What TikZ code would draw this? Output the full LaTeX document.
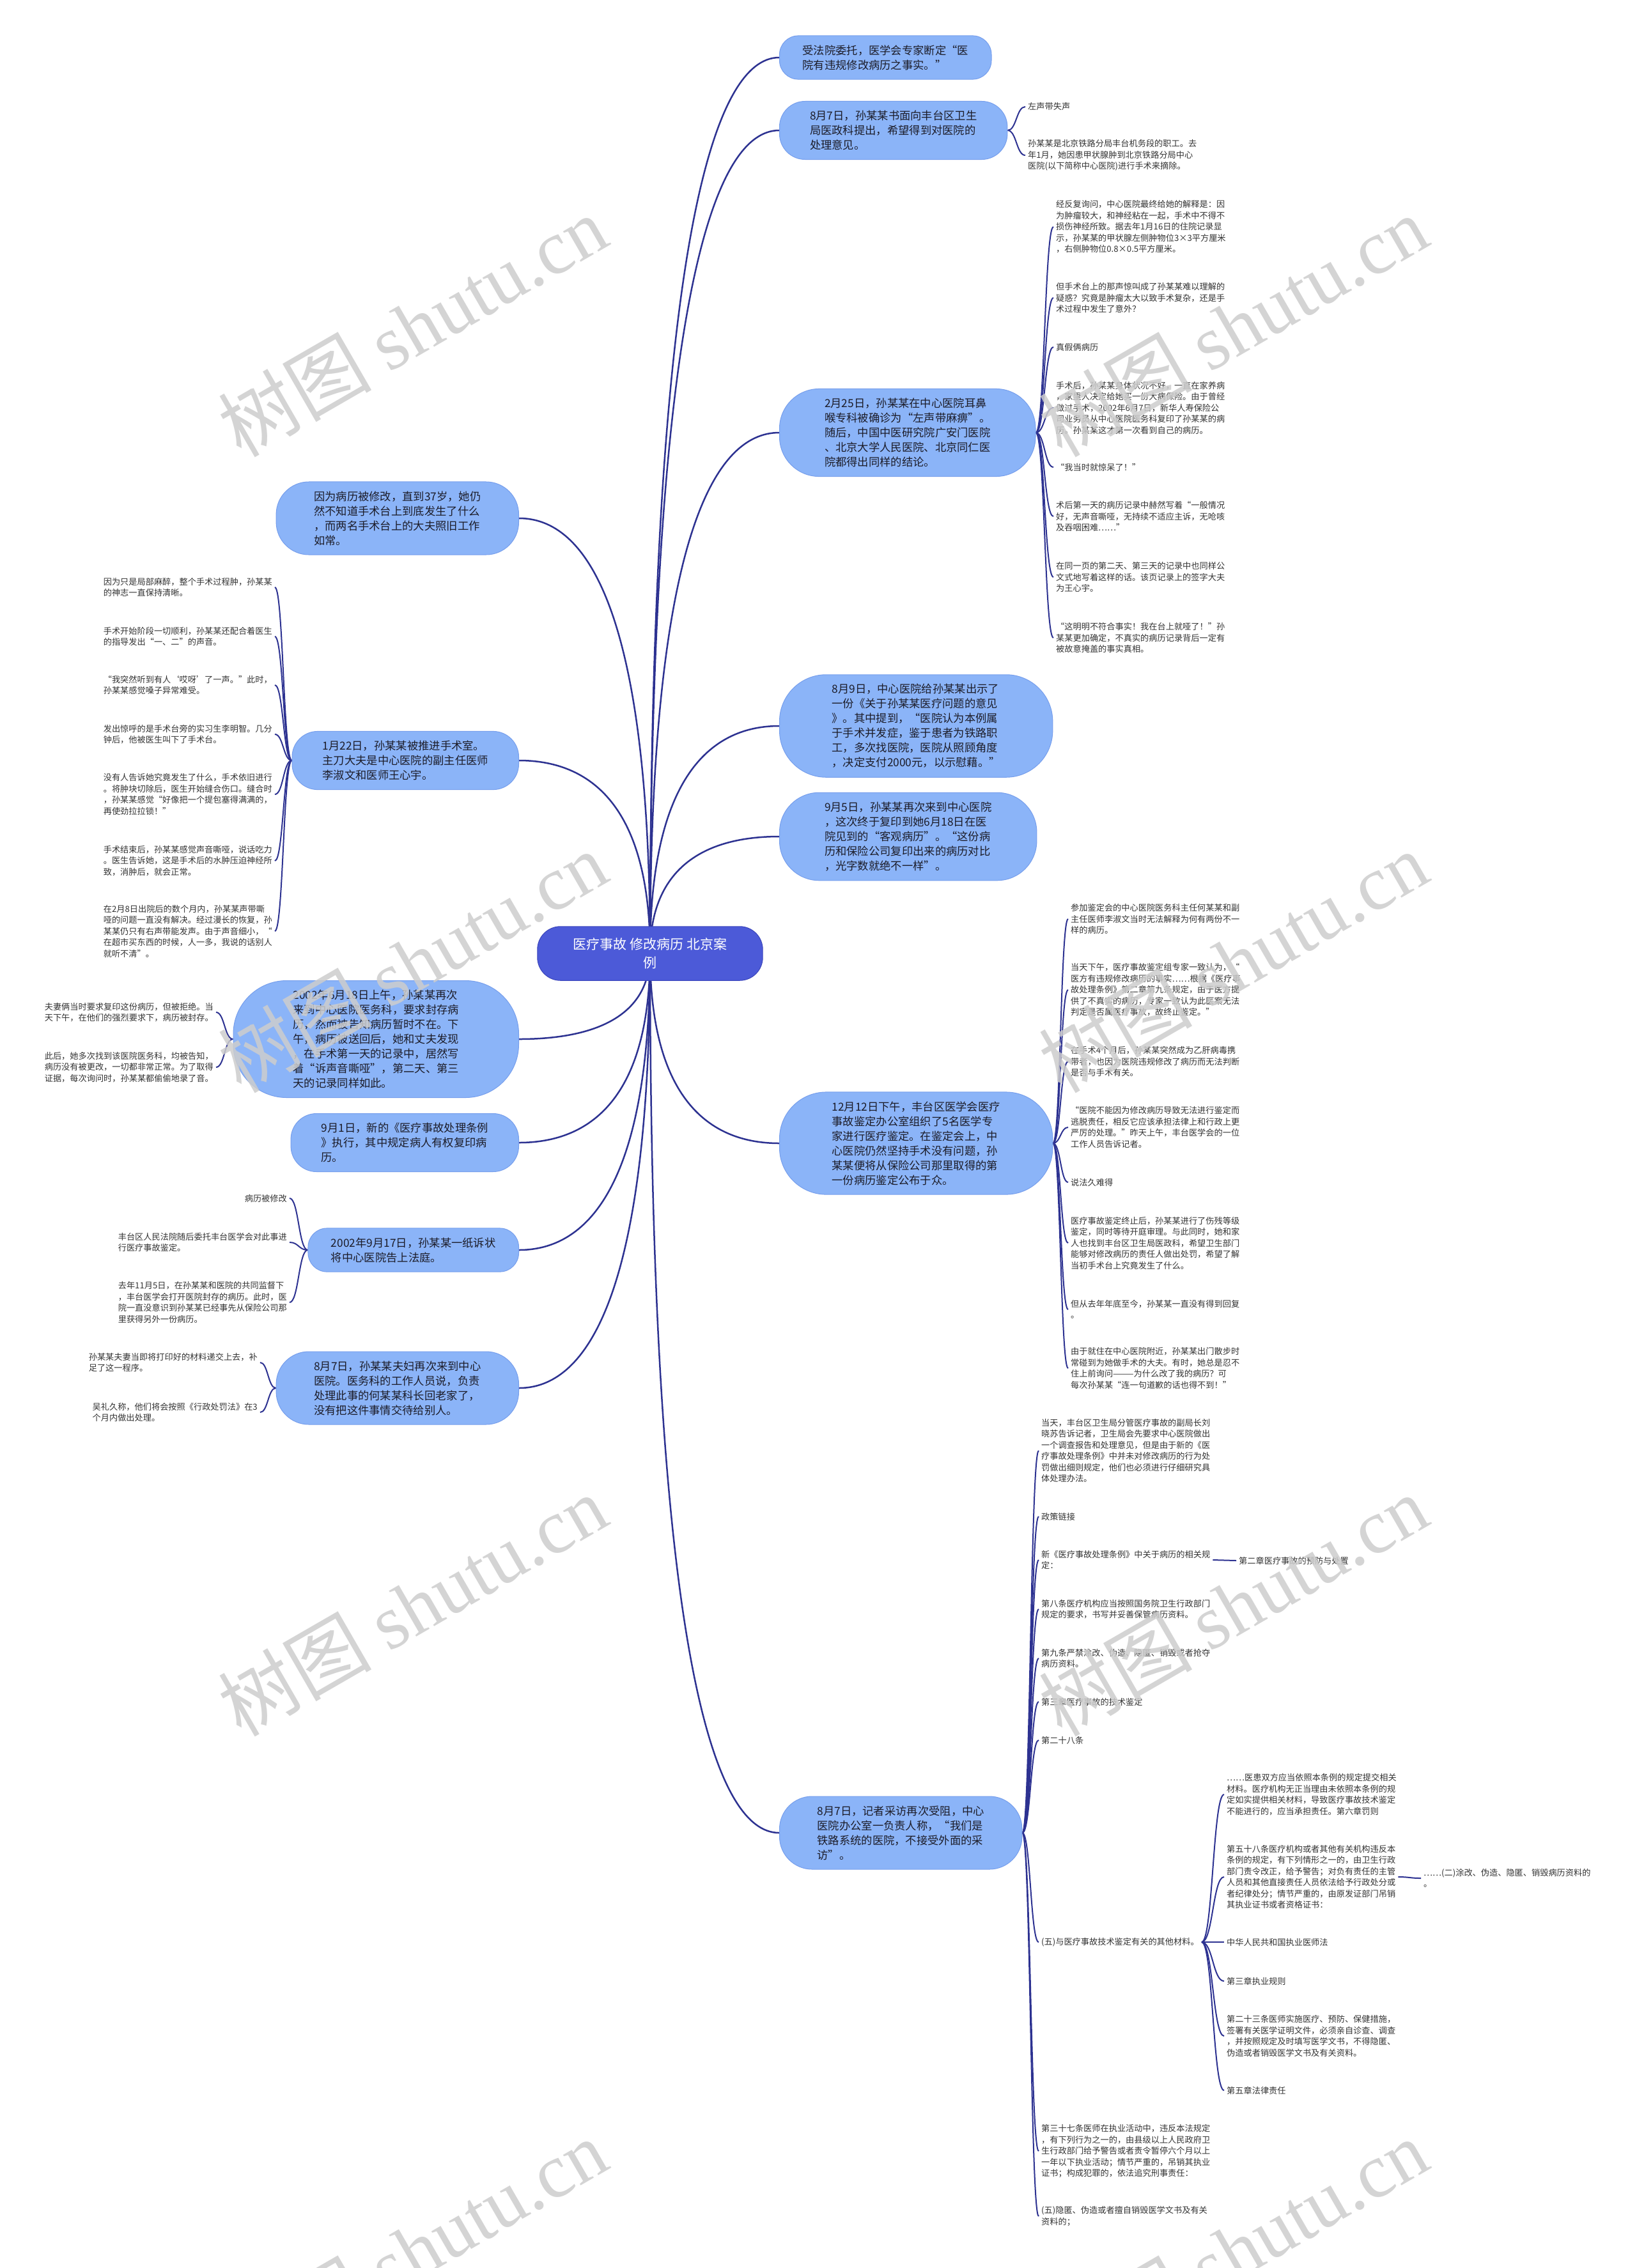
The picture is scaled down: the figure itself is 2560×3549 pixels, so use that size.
\documentclass[tikz,border=0pt]{standalone}
\usepackage{fontspec}
\setmainfont{Noto Sans CJK SC}
\newfontfamily\wmlatin{Liberation Serif}
\usetikzlibrary{calc,backgrounds}
\definecolor{linkblue}{RGB}{45,50,145}
\definecolor{boxfill}{RGB}{139,180,248}
\definecolor{boxline}{RGB}{118,158,236}
\definecolor{rootfill}{RGB}{76,90,216}
\definecolor{rootline}{RGB}{58,68,186}
\definecolor{leaftext}{RGB}{51,51,51}
\definecolor{boxtext}{RGB}{28,28,40}
\definecolor{wmgray}{RGB}{205,205,205}
\begin{document}
\begin{tikzpicture}[x=1pt, y=-1pt,
  root/.style={rectangle, rounded corners=36pt, fill=rootfill, draw=rootline, line width=1pt, text=white, align=center, inner xsep=56pt, inner ysep=18pt, font=\fontsize{21}{29}\selectfont},
  box/.style 2 args={rectangle, rounded corners=#1, fill=boxfill, draw=boxline, line width=1pt, text=boxtext, align=left, inner xsep=#2, inner ysep=14.5pt, font=\fontsize{17.3}{23}\selectfont},
  leaf/.style={align=left, inner sep=4pt, text=leaftext, font=\fontsize{13.2}{17.5}\selectfont},
  branch/.style={draw=linkblue, line width=2.5pt, to path={let \p1=(\tikztostart), \p2=(\tikztotarget) in .. controls (\x1,{\y1+0.8*(\y2-\y1)}) and ({\x1+0.5*(\x2-\x1)},\y2) .. (\tikztotarget)}},
  twig/.style={draw=linkblue, line width=2pt, to path={let \p1=(\tikztostart), \p2=(\tikztotarget) in .. controls ({0.5*(\x1+\x2)},\y1) and ({0.5*(\x1+\x2)},\y2) .. (\tikztotarget)}},
  wmark/.style={text=wmgray, opacity=0.85, rotate=30, font=\fontsize{120}{120}\selectfont}]
\useasboundingbox (0,0) rectangle (2560,3549);

\node[root] (r) at (1017,1492) {医疗事故 修改病历 北京案\\例};

\node[box={29.5pt}{36pt}, anchor=west] (b1) at (1219,90) {受法院委托，医学会专家断定“医\\院有违规修改病历之事实。”};
\node[box={40pt}{47.5pt}, anchor=west] (b2) at (1219,204) {8月7日，孙某某书面向丰台区卫生\\局医政科提出，希望得到对医院的\\处理意见。};
\node[box={62pt}{70.5pt}, anchor=west] (b3) at (1219,677) {2月25日，孙某某在中心医院耳鼻\\喉专科被确诊为“左声带麻痹”。\\随后，中国中医研究院广安门医院\\、北京大学人民医院、北京同仁医\\院都得出同样的结论。};
\node[box={73pt}{82pt}, anchor=west] (b4) at (1219,1136) {8月9日，中心医院给孙某某出示了\\一份《关于孙某某医疗问题的意见\\》。其中提到，“医院认为本例属\\于手术并发症，鉴于患者为铁路职\\工，多次找医院，医院从照顾角度\\，决定支付2000元，以示慰藉。”};
\node[box={62pt}{70.5pt}, anchor=west] (b5) at (1219,1309) {9月5日，孙某某再次来到中心医院\\，这次终于复印到她6月18日在医\\院见到的“客观病历”。“这份病\\历和保险公司复印出来的病历对比\\，光字数就绝不一样”。};
\node[box={73pt}{82pt}, anchor=west] (b6) at (1219,1789) {12月12日下午，丰台区医学会医疗\\事故鉴定办公室组织了5名医学专\\家进行医疗鉴定。在鉴定会上，中\\心医院仍然坚持手术没有问题，孙\\某某便将从保险公司那里取得的第\\一份病历鉴定公布于众。};
\node[box={51pt}{59pt}, anchor=west] (b7) at (1219,2868) {8月7日，记者采访再次受阻，中心\\医院办公室一负责人称，“我们是\\铁路系统的医院，不接受外面的采\\访”。};

\node[box={51pt}{59pt}, anchor=east] (l1) at (812,811) {因为病历被修改，直到37岁，她仍\\然不知道手术台上到底发生了什么\\，而两名手术台上的大夫照旧工作\\如常。};
\node[box={40pt}{47.5pt}, anchor=east] (l2) at (812,1190) {1月22日，孙某某被推进手术室。\\主刀大夫是中心医院的副主任医师\\李淑文和医师王心宇。};
\node[box={83.5pt}{93.5pt}, anchor=east] (l3) at (812,1626) {2002年6月18日上午，孙某某再次\\来到中心医院医务科，要求封存病\\历，然而被告知病历暂时不在。下\\午，病历被送回后，她和丈夫发现\\，在手术第一天的记录中，居然写\\着“诉声音嘶哑”，第二天、第三\\天的记录同样如此。};
\node[box={40pt}{47.5pt}, anchor=east] (l4) at (812,1788) {9月1日，新的《医疗事故处理条例\\》执行，其中规定病人有权复印病\\历。};
\node[box={29.5pt}{36pt}, anchor=east] (l5) at (812,1956) {2002年9月17日，孙某某一纸诉状\\将中心医院告上法庭。};
\node[box={51pt}{59pt}, anchor=east] (l6) at (812,2172) {8月7日，孙某某夫妇再次来到中心\\医院。医务科的工作人员说，负责\\处理此事的何某某科长回老家了，\\没有把这件事情交待给别人。};

\node[leaf, anchor=west] (a1) at (1604,167) {左声带失声};
\node[leaf, anchor=west] (a2) at (1604,243) {孙某某是北京铁路分局丰台机务段的职工。去\\年1月，她因患甲状腺肿到北京铁路分局中心\\医院(以下简称中心医院)进行手术来摘除。};

\node[leaf, anchor=west] (c1) at (1648,355) {经反复询问，中心医院最终给她的解释是：因\\为肿瘤较大，和神经粘在一起，手术中不得不\\损伤神经所致。据去年1月16日的住院记录显\\示，孙某某的甲状腺左侧肿物位3×3平方厘米\\，右侧肿物位0.8×0.5平方厘米。};
\node[leaf, anchor=west] (c2) at (1648,466) {但手术台上的那声惊叫成了孙某某难以理解的\\疑惑？究竟是肿瘤太大以致手术复杂，还是手\\术过程中发生了意外？};
\node[leaf, anchor=west] (c3) at (1648,543) {真假俩病历};
\node[leaf, anchor=west] (c4) at (1648,638) {手术后，孙某某身体状况不好，一直在家养病\\，家里人决定给她买一份大病保险。由于曾经\\做过手术，2002年6月7日，新华人寿保险公\\司业务员从中心医院医务科复印了孙某某的病\\历。孙某某这才第一次看到自己的病历。};
\node[leaf, anchor=west] (c5) at (1648,731) {“我当时就惊呆了！”};
\node[leaf, anchor=west] (c6) at (1648,808) {术后第一天的病历记录中赫然写着“一般情况\\好，无声音嘶哑，无持续不适应主诉，无呛咳\\及吞咽困难……”};
\node[leaf, anchor=west] (c7) at (1648,903) {在同一页的第二天、第三天的记录中也同样公\\文式地写着这样的话。该页记录上的签字大夫\\为王心宇。};
\node[leaf, anchor=west] (c8) at (1648,998) {“这明明不符合事实！我在台上就哑了！”孙\\某某更加确定，不真实的病历记录背后一定有\\被故意掩盖的事实真相。};

\node[leaf, anchor=west] (d1) at (1671,1438) {参加鉴定会的中心医院医务科主任何某某和副\\主任医师李淑文当时无法解释为何有两份不一\\样的病历。};
\node[leaf, anchor=west] (d2) at (1671,1549) {当天下午，医疗事故鉴定组专家一致认为，“\\医方有违规修改病历的事实……根据《医疗事\\故处理条例》第二章第九条规定，由于医方提\\供了不真实的病历，专家一致认为此医案无法\\判定是否属医疗事故，故终止鉴定。”};
\node[leaf, anchor=west] (d3) at (1671,1661) {在手术4个月后，孙某某突然成为乙肝病毒携\\带者，也因为医院违规修改了病历而无法判断\\是否与手术有关。};
\node[leaf, anchor=west] (d4) at (1671,1764) {“医院不能因为修改病历导致无法进行鉴定而\\逃脱责任，相反它应该承担法律上和行政上更\\严厉的处理。”昨天上午，丰台医学会的一位\\工作人员告诉记者。};
\node[leaf, anchor=west] (d5) at (1671,1850) {说法久难得};
\node[leaf, anchor=west] (d6) at (1671,1945) {医疗事故鉴定终止后，孙某某进行了伤残等级\\鉴定，同时等待开庭审理。与此同时，她和家\\人也找到丰台区卫生局医政科，希望卫生部门\\能够对修改病历的责任人做出处罚，希望了解\\当初手术台上究竟发生了什么。};
\node[leaf, anchor=west] (d7) at (1671,2049) {但从去年年底至今，孙某某一直没有得到回复\\。};
\node[leaf, anchor=west] (d8) at (1671,2141) {由于就住在中心医院附近，孙某某出门散步时\\常碰到为她做手术的大夫。有时，她总是忍不\\住上前询问———为什么改了我的病历？可\\每次孙某某“连一句道歉的话也得不到！”};

\node[leaf, anchor=west] (e1) at (1625,2270) {当天，丰台区卫生局分管医疗事故的副局长刘\\晓苏告诉记者，卫生局会先要求中心医院做出\\一个调查报告和处理意见，但是由于新的《医\\疗事故处理条例》中并未对修改病历的行为处\\罚做出细则规定，他们也必须进行仔细研究具\\体处理办法。};
\node[leaf, anchor=west] (e2) at (1625,2373) {政策链接};
\node[leaf, anchor=west] (e3) at (1625,2441) {新《医疗事故处理条例》中关于病历的相关规\\定：};
\node[leaf, anchor=west] (k1) at (1934,2442) {第二章医疗事故的预防与处置};
\node[leaf, anchor=west] (e4) at (1625,2518) {第八条医疗机构应当按照国务院卫生行政部门\\规定的要求，书写并妥善保管病历资料。};
\node[leaf, anchor=west] (e5) at (1625,2595) {第九条严禁涂改、伪造、隐匿、销毁或者抢夺\\病历资料。};
\node[leaf, anchor=west] (e6) at (1625,2663) {第三章医疗事故的技术鉴定};
\node[leaf, anchor=west] (e7) at (1625,2723) {第二十八条};
\node[leaf, anchor=west] (e8) at (1625,3039) {(五)与医疗事故技术鉴定有关的其他材料。};
\node[leaf, anchor=west] (f1) at (1915,2808) {……医患双方应当依照本条例的规定提交相关\\材料。医疗机构无正当理由未依照本条例的规\\定如实提供相关材料，导致医疗事故技术鉴定\\不能进行的，应当承担责任。第六章罚则};
\node[leaf, anchor=west] (f2) at (1915,2937) {第五十八条医疗机构或者其他有关机构违反本\\条例的规定，有下列情形之一的，由卫生行政\\部门责令改正，给予警告；对负有责任的主管\\人员和其他直接责任人员依法给予行政处分或\\者纪律处分；情节严重的，由原发证部门吊销\\其执业证书或者资格证书：};
\node[leaf, anchor=west] (g1) at (2223,2939) {……(二)涂改、伪造、隐匿、销毁病历资料的\\。};
\node[leaf, anchor=west] (f3) at (1915,3039) {中华人民共和国执业医师法};
\node[leaf, anchor=west] (f4) at (1915,3100) {第三章执业规则};
\node[leaf, anchor=west] (f5) at (1915,3186) {第二十三条医师实施医疗、预防、保健措施，\\签署有关医学证明文件，必须亲自诊查、调查\\，并按照规定及时填写医学文书，不得隐匿、\\伪造或者销毁医学文书及有关资料。};
\node[leaf, anchor=west] (f6) at (1915,3271) {第五章法律责任};
\node[leaf, anchor=west] (e9) at (1625,3366) {第三十七条医师在执业活动中，违反本法规定\\，有下列行为之一的，由县级以上人民政府卫\\生行政部门给予警告或者责令暂停六个月以上\\一年以下执业活动；情节严重的，吊销其执业\\证书；构成犯罪的，依法追究刑事责任：};
\node[leaf, anchor=west] (e10) at (1625,3468) {(五)隐匿、伪造或者擅自销毁医学文书及有关\\资料的；};

\node[leaf, anchor=east] (h1) at (430,919) {因为只是局部麻醉，整个手术过程肿，孙某某\\的神志一直保持清晰。};
\node[leaf, anchor=east] (h2) at (430,996) {手术开始阶段一切顺利，孙某某还配合着医生\\的指导发出“一、二”的声音。};
\node[leaf, anchor=east] (h3) at (430,1072) {“我突然听到有人‘哎呀’了一声。”此时，\\孙某某感觉嗓子异常难受。};
\node[leaf, anchor=east] (h4) at (430,1149) {发出惊呼的是手术台旁的实习生李明智。几分\\钟后，他被医生叫下了手术台。};
\node[leaf, anchor=east] (h5) at (430,1243) {没有人告诉她究竟发生了什么，手术依旧进行\\。将肿块切除后，医生开始缝合伤口。缝合时\\，孙某某感觉“好像把一个提包塞得满满的，\\再使劲拉拉锁！”};
\node[leaf, anchor=east] (h6) at (430,1347) {手术结束后，孙某某感觉声音嘶哑，说话吃力\\。医生告诉她，这是手术后的水肿压迫神经所\\致，消肿后，就会正常。};
\node[leaf, anchor=east] (h7) at (430,1457) {在2月8日出院后的数个月内，孙某某声带嘶\\哑的问题一直没有解决。经过漫长的恢复，孙\\某某仍只有右声带能发声。由于声音细小，“\\在超市买东西的时候，人一多，我说的话别人\\就听不清”。};

\node[leaf, anchor=east] (i1) at (338,1584) {夫妻俩当时要求复印这份病历，但被拒绝。当\\天下午，在他们的强烈要求下，病历被封存。};
\node[leaf, anchor=east] (i2) at (338,1670) {此后，她多次找到该医院医务科，均被告知，\\病历没有被更改，一切都非常正常。为了取得\\证据，每次询问时，孙某某都偷偷地录了音。};

\node[leaf, anchor=east] (j1) at (453,1875) {病历被修改};
\node[leaf, anchor=east] (j2) at (453,1944) {丰台区人民法院随后委托丰台医学会对此事进\\行医疗事故鉴定。};
\node[leaf, anchor=east] (j3) at (453,2038) {去年11月5日，在孙某某和医院的共同监督下\\，丰台医学会打开医院封存的病历。此时，医\\院一直没意识到孙某某已经事先从保险公司那\\里获得另外一份病历。};

\node[leaf, anchor=east] (m1) at (407,2132) {孙某某夫妻当即将打印好的材料递交上去，补\\足了这一程序。};
\node[leaf, anchor=east] (m2) at (407,2210) {吴礼久称，他们将会按照《行政处罚法》在3\\个月内做出处理。};

\begin{scope}[on background layer]
\fill[white] (0,0) rectangle (2560,3549);
\draw[branch] (r.center) to (b1.west);
\draw[branch] (r.center) to (b2.west);
\draw[branch] (r.center) to (b3.west);
\draw[branch] (r.center) to (b4.west);
\draw[branch] (r.center) to (b5.west);
\draw[branch] (r.center) to (b6.west);
\draw[branch] (r.center) to (b7.west);
\draw[branch] (r.center) to (l1.east);
\draw[branch] (r.center) to (l2.east);
\draw[branch] (r.center) to (l3.east);
\draw[branch] (r.center) to (l4.east);
\draw[branch] (r.center) to (l5.east);
\draw[branch] (r.center) to (l6.east);
\draw[twig] (b2.east) to (a1.west);
\draw[twig] (b2.east) to (a2.west);
\draw[twig] (b3.east) to (c1.west);
\draw[twig] (b3.east) to (c2.west);
\draw[twig] (b3.east) to (c3.west);
\draw[twig] (b3.east) to (c4.west);
\draw[twig] (b3.east) to (c5.west);
\draw[twig] (b3.east) to (c6.west);
\draw[twig] (b3.east) to (c7.west);
\draw[twig] (b3.east) to (c8.west);
\draw[twig] (b6.east) to (d1.west);
\draw[twig] (b6.east) to (d2.west);
\draw[twig] (b6.east) to (d3.west);
\draw[twig] (b6.east) to (d4.west);
\draw[twig] (b6.east) to (d5.west);
\draw[twig] (b6.east) to (d6.west);
\draw[twig] (b6.east) to (d7.west);
\draw[twig] (b6.east) to (d8.west);
\draw[twig] (b7.east) to (e1.west);
\draw[twig] (b7.east) to (e2.west);
\draw[twig] (b7.east) to (e3.west);
\draw[twig] (b7.east) to (e4.west);
\draw[twig] (b7.east) to (e5.west);
\draw[twig] (b7.east) to (e6.west);
\draw[twig] (b7.east) to (e7.west);
\draw[twig] (b7.east) to (e8.west);
\draw[twig] (b7.east) to (e9.west);
\draw[twig] (b7.east) to (e10.west);
\draw[twig] (e3.east) to (k1.west);
\draw[twig] (e8.east) to (f1.west);
\draw[twig] (e8.east) to (f2.west);
\draw[twig] (e8.east) to (f3.west);
\draw[twig] (e8.east) to (f4.west);
\draw[twig] (e8.east) to (f5.west);
\draw[twig] (e8.east) to (f6.west);
\draw[twig] (f2.east) to (g1.west);
\draw[twig] (l2.west) to (h1.east);
\draw[twig] (l2.west) to (h2.east);
\draw[twig] (l2.west) to (h3.east);
\draw[twig] (l2.west) to (h4.east);
\draw[twig] (l2.west) to (h5.east);
\draw[twig] (l2.west) to (h6.east);
\draw[twig] (l2.west) to (h7.east);
\draw[twig] (l3.west) to (i1.east);
\draw[twig] (l3.west) to (i2.east);
\draw[twig] (l5.west) to (j1.east);
\draw[twig] (l5.west) to (j2.east);
\draw[twig] (l5.west) to (j3.east);
\draw[twig] (l6.west) to (m1.east);
\draw[twig] (l6.west) to (m2.east);
\end{scope}

\node[wmark] (w1) at (645,510) {树图 {\wmlatin shutu.cn}};
\node[wmark] (w2) at (1929,510) {树图 {\wmlatin shutu.cn}};
\node[wmark] (w3) at (645,1505) {树图 {\wmlatin shutu.cn}};
\node[wmark] (w4) at (1929,1505) {树图 {\wmlatin shutu.cn}};
\node[wmark] (w5) at (645,2512) {树图 {\wmlatin shutu.cn}};
\node[wmark] (w6) at (1929,2512) {树图 {\wmlatin shutu.cn}};
\node[wmark] (w7) at (645,3520) {树图 {\wmlatin shutu.cn}};
\node[wmark] (w8) at (1929,3520) {树图 {\wmlatin shutu.cn}};
\end{tikzpicture}
\end{document}
